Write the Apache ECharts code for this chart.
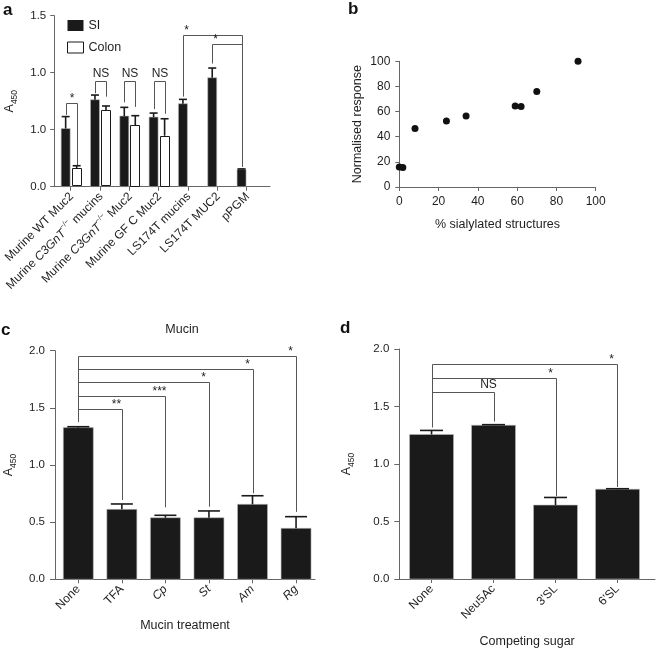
<!DOCTYPE html>
<html><head><meta charset="utf-8">
<script src="https://cdn.jsdelivr.net/npm/echarts@6/dist/echarts.min.js"></script>
<style>html,body{margin:0;padding:0;background:#fff}#chart{width:664px;height:649px}</style>
</head><body><div id="chart"></div>
<script>
// ---------- Panel a ----------
const aCategories = ['Murine WT Muc2', 'Murine C3GnT−/− mucins', 'Murine C3GnT−/− Muc2', 'Murine GF C Muc2', 'LS174T mucins', 'LS174T MUC2', 'pPGM'];
const aSI = [0.51, 0.763, 0.62, 0.611, 0.728, 0.956, 0.152];
const aSIErr = [0.105, 0.041, 0.076, 0.035, 0.038, 0.085, 0.004];
const aColon = [0.161, 0.67, 0.541, 0.447, null, null, null];
const aColonErr = [0.023, 0.038, 0.082, 0.149, null, null, null];
const aYTickLabels = ['0.0', '1.0', '1.0', '1.5'];
const aBrackets = [
  { from: 0, fromSeries: 'SI', to: 0, toSeries: 'Colon', level: 0.734, end1: 0.63, end2: 0.19, text: '*', at: 'mid' },
  { from: 1, fromSeries: 'SI', to: 1, toSeries: 'Colon', level: 0.927, end1: 0.82, end2: 0.79, text: 'NS', at: 'mid' },
  { from: 2, fromSeries: 'SI', to: 2, toSeries: 'Colon', level: 0.927, end1: 0.74, end2: 0.70, text: 'NS', at: 'mid' },
  { from: 3, fromSeries: 'SI', to: 3, toSeries: 'Colon', level: 0.927, end1: 0.68, end2: 0.64, text: 'NS', at: 'mid' },
  { from: 4, fromSeries: 'SI', to: 6, toSeries: 'SI', level: 1.33, end1: 0.79, end2: 0.175, text: '*', at: 'left' },
  { from: 5, fromSeries: 'SI', to: 6, toSeries: 'SI', level: 1.249, end1: 1.08, end2: 0.175, text: '*', at: 'left' }
];

// ---------- Panel b ----------
const bSialylated = [0, 1.8, 8, 24, 34, 59, 62, 70, 91];
const bResponse = [16, 15.5, 46.5, 52.5, 56.5, 64.5, 64, 76, 100];

// ---------- Panel c ----------
const cCategories = ['None', 'TFA', 'Cp', 'St', 'Am', 'Rg'];
const cItalic = ['Cp', 'St', 'Am', 'Rg'];
const cMeans = [1.327, 0.612, 0.539, 0.539, 0.656, 0.446];
const cErr = [0.008, 0.047, 0.021, 0.059, 0.075, 0.102];
const cBrackets = [
  { from: 0, to: 1, level: 1.49, end1: 1.379, end2: 0.694, text: '**', at: 'right' },
  { from: 0, to: 2, level: 1.606, end1: 1.379, end2: 0.63, text: '***', at: 'right' },
  { from: 0, to: 3, level: 1.723, end1: 1.379, end2: 0.635, text: '*', at: 'right' },
  { from: 0, to: 4, level: 1.837, end1: 1.379, end2: 0.752, text: '*', at: 'right' },
  { from: 0, to: 5, level: 1.953, end1: 1.379, end2: 0.59, text: '*', at: 'right' }
];

// ---------- Panel d ----------
const dCategories = ['None', 'Neu5Ac', "3'SL", "6'SL"];
const dMeans = [1.257, 1.337, 0.643, 0.781];
const dErr = [0.035, 0.005, 0.066, 0.004];
const dBrackets = [
  { from: 0, to: 1, level: 1.63, end1: 1.32, end2: 1.37, text: 'NS', at: 'right' },
  { from: 0, to: 2, level: 1.751, end1: 1.32, end2: 0.72, text: '*', at: 'right' },
  { from: 0, to: 3, level: 1.87, end1: 1.32, end2: 0.80, text: '*', at: 'right' }
];

// ---------- styling ----------
const FONT = '"Liberation Sans", Arial, Helvetica, sans-serif';
const TXT = '#1e1e1e';
const AXC = '#666';
const BAR = '#1a1a1a';
const BRK = '#555';

const chart = echarts.init(document.getElementById('chart'), null, { renderer: 'canvas' });

function crisp(v) { return Math.round(v) + 0.5; }

function barSeries(name, xi, yi, values, errs, opt) {
  const data = [];
  values.forEach((v, i) => { if (v != null) data.push([i, v, errs[i] || 0]); });
  return {
    type: 'custom', name: name, xAxisIndex: xi, yAxisIndex: yi, silent: true, z: 3,
    itemStyle: { color: opt.fill, borderColor: opt.stroke || opt.fill, borderWidth: opt.stroke ? 1 : 0 },
    encode: { x: 0, y: 1 },
    data: data,
    renderItem: function (params, api) {
      const x = api.value(0), v = api.value(1), e = api.value(2);
      const p0 = api.coord([x, 0]);
      const p1 = api.coord([x, v]);
      const cx = p0[0] + opt.dx;
      const w = opt.w;
      const children = [];
      if (opt.stroke) {
        children.push({ type: 'rect', shape: { x: crisp(cx - w / 2), y: crisp(p1[1]), width: Math.round(w) - 1, height: Math.round(p0[1] - p1[1]) - 1 },
          style: { fill: opt.fill, stroke: opt.stroke, lineWidth: 1 } });
      } else {
        children.push({ type: 'rect', shape: { x: cx - w / 2, y: p1[1], width: w, height: p0[1] - p1[1] },
          style: { fill: opt.fill, stroke: '#bbb', lineWidth: 0.6 } });
      }
      if (e > 0) {
        const pe = api.coord([x, v + e]);
        children.push({ type: 'line', shape: { x1: cx, y1: p1[1], x2: cx, y2: pe[1] }, style: { stroke: BAR, lineWidth: 1.6 } });
        children.push({ type: 'line', shape: { x1: cx - opt.cap / 2, y1: pe[1], x2: cx + opt.cap / 2, y2: pe[1] }, style: { stroke: BAR, lineWidth: 1.6 } });
      }
      return { type: 'group', children: children };
    }
  };
}

function bracketSeries(xi, yi, list, dxOf) {
  return {
    type: 'custom', xAxisIndex: xi, yAxisIndex: yi, silent: true, z: 5,
    encode: { x: 0, y: 1 },
    data: list.map(b => [b.from, b.level]),
    renderItem: function (params, api) {
      const b = list[params.dataIndex];
      const x1 = crisp(api.coord([b.from, b.level])[0] + dxOf(b.fromSeries));
      const x2 = crisp(api.coord([b.to, b.level])[0] + dxOf(b.toSeries));
      const yL = crisp(api.coord([b.from, b.level])[1]);
      const y1 = api.coord([b.from, b.end1])[1];
      const y2 = api.coord([b.to, b.end2])[1];
      const tx = b.at === 'mid' ? (x1 + x2) / 2 : (b.at === 'left' ? x1 + 3 : x2 - 6);
      const ty = yL - (b.text.indexOf('*') >= 0 ? 4.5 : 8);
      return { type: 'group', children: [
        { type: 'polyline', shape: { points: [[x1, y1], [x1, yL], [x2, yL], [x2, y2]] }, style: { stroke: BRK, lineWidth: 1, fill: null } },
        { type: 'text', style: { text: b.text, x: tx, y: ty, align: 'center', verticalAlign: 'middle', font: '12px ' + FONT, fill: TXT } }
      ] };
    }
  };
}

const aDx = { SI: -5, Colon: 6 };

function aLabel(s) {
  const m = s.match(/^(.*?)(C3GnT)(−\/−)(.*)$/);
  if (m) return '{n|' + m[1] + '}{i|' + m[2] + '}{sup|' + m[3] + '}{n|' + m[4] + '}';
  return '{n|' + s + '}';
}

const baseLabel = { color: TXT, fontFamily: FONT, fontSize: 11.5 };
const axisLineCfg = { show: true, onZero: false, lineStyle: { color: AXC, width: 1 } };
const tickCfg = { show: true, length: 4, lineStyle: { color: AXC, width: 1 } };
const nameStyle = { color: TXT, fontFamily: FONT, fontSize: 12.5 };
const a450Name = '{a|A}{s|450}';
const a450Style = {
  color: TXT, fontFamily: FONT,
  rich: {
    a: { fontSize: 12.5, lineHeight: 16, verticalAlign: 'top', color: TXT, fontFamily: FONT },
    s: { fontSize: 8.5, lineHeight: 16, verticalAlign: 'bottom', color: TXT, fontFamily: FONT }
  }
};

const option = {
  animation: false,
  backgroundColor: '#fff',
  textStyle: { fontFamily: FONT, color: TXT },
  graphic: [
    { type: 'text', x: 3, y: 10, style: { text: 'a', font: 'bold 17px ' + FONT, fill: '#111', verticalAlign: 'middle' } },
    { type: 'text', x: 348, y: 9, style: { text: 'b', font: 'bold 17px ' + FONT, fill: '#111', verticalAlign: 'middle' } },
    { type: 'text', x: 1, y: 330, style: { text: 'c', font: 'bold 17px ' + FONT, fill: '#111', verticalAlign: 'middle' } },
    { type: 'text', x: 340, y: 328, style: { text: 'd', font: 'bold 17px ' + FONT, fill: '#111', verticalAlign: 'middle' } },
    { type: 'text', x: 182, y: 330, style: { text: 'Mucin', font: '12.5px ' + FONT, fill: TXT, align: 'center', verticalAlign: 'middle' } }
  ],
  legend: {
    show: true, orient: 'vertical', left: 62, top: 14, itemWidth: 16, itemHeight: 11, itemGap: 9, icon: 'rect',
    selectedMode: false,
    textStyle: { color: TXT, fontFamily: FONT, fontSize: 12.5 },
    data: [
      { name: 'SI', itemStyle: { color: BAR } },
      { name: 'Colon', itemStyle: { color: '#fff', borderColor: BAR, borderWidth: 1 } }
    ]
  },
  grid: [
    { left: 54, top: 15.7, width: 216, height: 171 },
    { left: 399.3, top: 61.3, width: 196.4, height: 125.7 },
    { left: 55, top: 350.7, width: 260, height: 228.6 },
    { left: 399.3, top: 349, width: 255.7, height: 230.3 }
  ],
  xAxis: [
    {
      gridIndex: 0, type: 'value', min: -0.56, max: 6.8,
      axisLine: axisLineCfg, splitLine: { show: false },
      axisTick: Object.assign({}, tickCfg, { customValues: [0, 1, 2, 3, 4, 5, 6] }),
      axisLabel: {
        customValues: [0, 1, 2, 3, 4, 5, 6], rotate: 45, margin: 7,
        color: TXT, fontFamily: FONT, fontSize: 12,
        formatter: v => aLabel(aCategories[Math.round(v)]),
        rich: {
          n: { fontSize: 12, lineHeight: 15, verticalAlign: 'bottom', color: TXT, fontFamily: FONT },
          i: { fontSize: 12, lineHeight: 15, verticalAlign: 'bottom', fontStyle: 'italic', color: TXT, fontFamily: FONT },
          sup: { fontSize: 7.5, lineHeight: 15, verticalAlign: 'top', color: TXT, fontFamily: FONT }
        }
      }
    },
    {
      gridIndex: 1, type: 'value', min: 0, max: 100, interval: 20,
      axisLine: axisLineCfg, axisTick: tickCfg, splitLine: { show: false },
      axisLabel: Object.assign({}, baseLabel, { margin: 9, fontSize: 12 }),
      name: '% sialylated structures', nameLocation: 'middle', nameGap: 31, nameTextStyle: nameStyle
    },
    {
      gridIndex: 2, type: 'value', min: -0.535, max: 5.435,
      axisLine: axisLineCfg, splitLine: { show: false },
      axisTick: Object.assign({}, tickCfg, { customValues: [0, 1, 2, 3, 4, 5] }),
      axisLabel: {
        customValues: [0, 1, 2, 3, 4, 5], rotate: 45, margin: 8,
        color: TXT, fontFamily: FONT, fontSize: 12,
        formatter: v => { const s = cCategories[Math.round(v)]; return cItalic.indexOf(s) >= 0 ? '{i|' + s + '}' : s; },
        rich: { i: { fontStyle: 'italic', fontSize: 12, color: TXT, fontFamily: FONT } }
      },
      name: 'Mucin treatment', nameLocation: 'middle', nameGap: 40, nameTextStyle: nameStyle
    },
    {
      gridIndex: 3, type: 'value', min: -0.52, max: 3.605,
      axisLine: axisLineCfg, splitLine: { show: false },
      axisTick: Object.assign({}, tickCfg, { customValues: [0, 1, 2, 3] }),
      axisLabel: {
        customValues: [0, 1, 2, 3], rotate: 45, margin: 8,
        color: TXT, fontFamily: FONT, fontSize: 12,
        formatter: v => dCategories[Math.round(v)]
      },
      name: 'Competing sugar', nameLocation: 'middle', nameGap: 56, nameTextStyle: nameStyle
    }
  ],
  yAxis: [
    {
      gridIndex: 0, type: 'value', min: 0, max: 1.5, interval: 0.5,
      axisLine: axisLineCfg, axisTick: tickCfg, splitLine: { show: false },
      axisLabel: Object.assign({}, baseLabel, { margin: 8, formatter: v => aYTickLabels[Math.round(v / 0.5)] }),
      name: a450Name, nameLocation: 'middle', nameRotate: 90, nameGap: 35, nameTextStyle: a450Style
    },
    {
      gridIndex: 1, type: 'value', min: 0, max: 100, interval: 20,
      axisLine: axisLineCfg, axisTick: tickCfg, splitLine: { show: false },
      axisLabel: Object.assign({}, baseLabel, { margin: 9, fontSize: 12 }),
      name: 'Normalised response', nameLocation: 'middle', nameRotate: 90, nameGap: 35, nameTextStyle: nameStyle
    },
    {
      gridIndex: 2, type: 'value', min: 0, max: 2, interval: 0.5,
      axisLine: axisLineCfg, axisTick: Object.assign({}, tickCfg, { length: 5 }), splitLine: { show: false },
      axisLabel: Object.assign({}, baseLabel, { margin: 10, formatter: v => v.toFixed(1) }),
      name: a450Name, nameLocation: 'middle', nameRotate: 90, nameGap: 37, nameTextStyle: a450Style
    },
    {
      gridIndex: 3, type: 'value', min: 0, max: 2, interval: 0.5,
      axisLine: axisLineCfg, axisTick: Object.assign({}, tickCfg, { length: 5 }), splitLine: { show: false },
      axisLabel: Object.assign({}, baseLabel, { margin: 10, formatter: v => v.toFixed(1) }),
      name: a450Name, nameLocation: 'middle', nameRotate: 90, nameGap: 43, nameTextStyle: a450Style
    }
  ],
  series: [
    barSeries('SI', 0, 0, aSI, aSIErr, { fill: BAR, dx: aDx.SI, w: 9, cap: 8 }),
    barSeries('Colon', 0, 0, aColon, aColonErr, { fill: '#fff', stroke: BAR, dx: aDx.Colon, w: 10, cap: 8 }),
    bracketSeries(0, 0, aBrackets, s => aDx[s] || 0),
    {
      type: 'scatter', xAxisIndex: 1, yAxisIndex: 1, silent: true,
      symbol: 'circle', symbolSize: 7, itemStyle: { color: '#111', opacity: 1 },
      data: bSialylated.map((x, i) => [x, bResponse[i]])
    },
    barSeries('c', 2, 2, cMeans, cErr, { fill: BAR, dx: 0, w: 30, cap: 22 }),
    bracketSeries(2, 2, cBrackets, () => 0),
    barSeries('d', 3, 3, dMeans, dErr, { fill: BAR, dx: 0, w: 44, cap: 23 }),
    bracketSeries(3, 3, dBrackets, () => 0)
  ]
};
chart.setOption(option);
</script>
</body></html>
